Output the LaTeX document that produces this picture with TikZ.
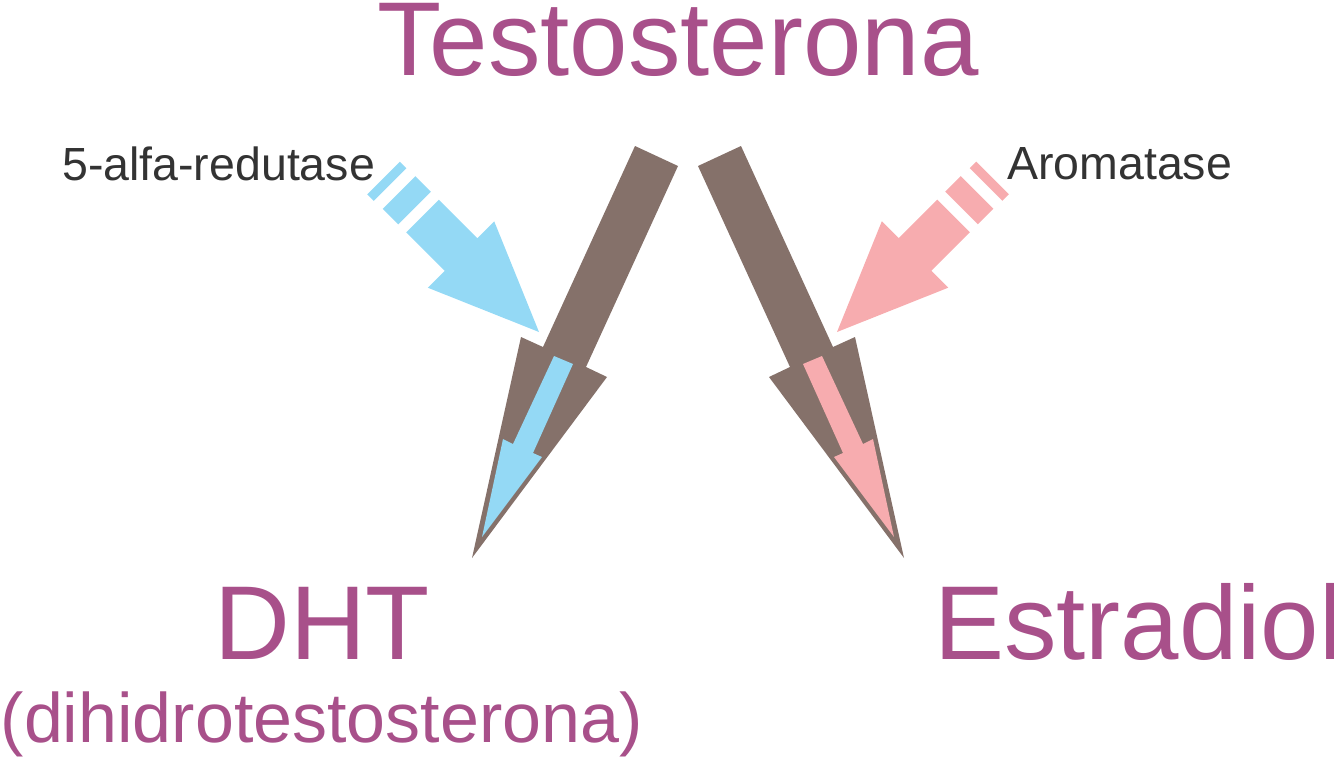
\documentclass[tikz,border=0pt]{standalone}
\usepackage{fontspec}
\setmainfont{Liberation Sans}
\usepackage{tikz}
\usetikzlibrary{positioning}
\definecolor{HormoneColor}{RGB}{168,80,138}
\definecolor{PathColor}{RGB}{133,113,106}
\definecolor{ReductaseColor}{RGB}{148,217,245}
\definecolor{AromataseColor}{RGB}{247,172,175}
\definecolor{LabelColor}{RGB}{51,51,51}
\tikzset{
  hormone/.style={text=HormoneColor, inner sep=0pt, anchor=base west},
  enzyme/.style={text=LabelColor, inner sep=0pt, anchor=base west, font=\fontsize{46.5}{50}\selectfont},
}

\begin{document}
\begin{tikzpicture}[x=1pt, y=-1pt]
    \useasboundingbox (0,0) rectangle (1334,760);
    % left side as drawn, right side mirrored about x=688
    \foreach \flip/\col in {1/ReductaseColor, -1/AromataseColor}{
      \begin{scope}[shift={(688,0)}, xscale=\flip, shift={(-688,0)}]
        \fill[PathColor] (635,146) -- (678,166) -- (586,367) -- (607,377) -- (472,558) -- (521,337) -- (543,347) -- cycle;
        \fill[\col] (554,356) -- (573,364) -- (533,453) -- (542,457) -- (482,537) -- (503,439) -- (513,444) -- cycle;
        \fill[\col] (438.8,199.7) -- (477.3,238.2) -- (494.2,221.3) -- (539,332) -- (427.8,287.7) -- (444.7,270.8) -- (406.2,232.3) -- cycle;
        \fill[\col] (415.3,176.2) -- (430.8,191.7) -- (398.2,224.3) -- (382.7,208.8) -- cycle;
        \fill[\col] (399.8,161.7) -- (406.3,168.2) -- (373.7,200.8) -- (367.2,194.3) -- cycle;
      \end{scope}
    }
    \node[hormone, font=\fontsize{105}{110}\selectfont] (testo) at (377,76) {Testosterona};
    \node[hormone, font=\fontsize{105}{110}\selectfont] (dht) at (214,659) {DHT};
    \node[hormone, font=\fontsize{70}{80}\selectfont] (dhtfull) at (0.5,742) {(dihidrotestosterona)};
    \node[hormone, font=\fontsize{105}{110}\selectfont] (estradiol) at (934,659) {Estradiol};
    \node[enzyme] (reductase) at (62,180) {5-alfa-redutase};
    \node[enzyme] (aromatase) at (1007,179) {Aromatase};
  \end{tikzpicture}
\end{document}
